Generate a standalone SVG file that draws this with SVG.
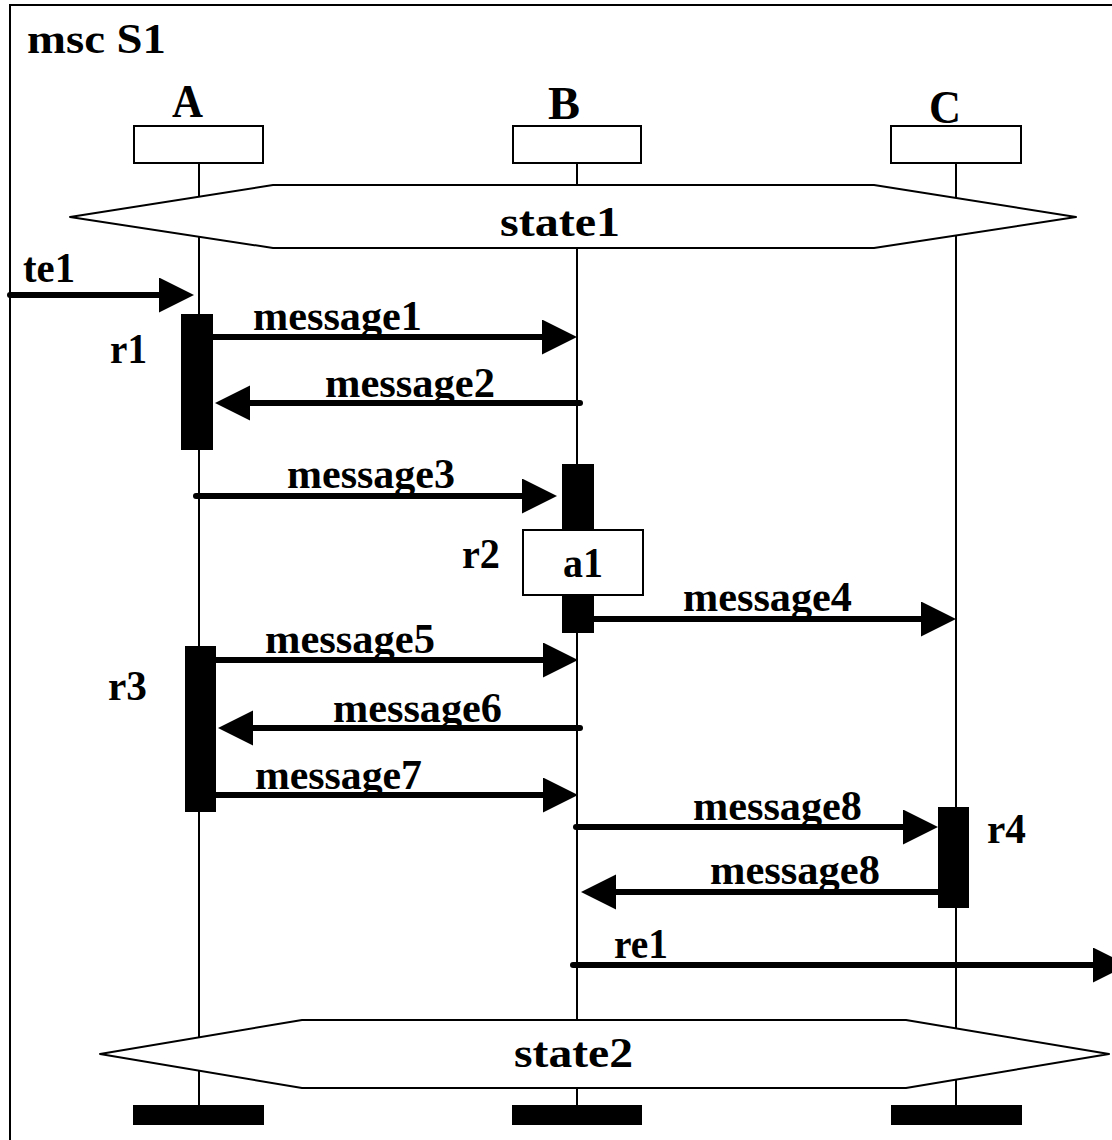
<svg xmlns="http://www.w3.org/2000/svg" width="1112" height="1140" viewBox="0 0 1112 1140">
<style>
text{font-family:"Liberation Serif","Times New Roman",serif;font-weight:bold;fill:#000;}
.t{font-size:42px;}
.hd{font-size:46px;}
.frame{fill:none;stroke:#000;stroke-width:2;}
.box{fill:#fff;stroke:#000;stroke-width:2;}
.life{stroke:#000;stroke-width:2;}
.act{fill:#000;}
.bar{fill:#000;}
.msg{stroke:#000;stroke-width:6;stroke-linecap:round;fill:none;marker-end:url(#ah);}
.cond{fill:#fff;stroke:#000;stroke-width:2;stroke-linejoin:round;}
</style>
<defs>
<marker id="ah" markerUnits="userSpaceOnUse" markerWidth="40" markerHeight="40" refX="25" refY="17.5" orient="auto">
<path d="M0,0 L35,17.5 L0,35 Z" fill="#000"/>
</marker>
</defs>
<rect width="1112" height="1140" fill="#fff"/>
<g id="frame">
<rect class="frame" x="10" y="5" width="1200" height="1200"/>
<text class="t" x="27" y="53" font-size="44" textLength="139" lengthAdjust="spacingAndGlyphs">msc S1</text>
</g>
<g id="instA">
<text class="hd" x="172" y="117" textLength="31" lengthAdjust="spacingAndGlyphs">A</text>
<rect class="box" x="134" y="126" width="129" height="37"/>
<line class="life" x1="199" y1="163" x2="199" y2="1105"/>
<rect class="bar" x="133" y="1105" width="131" height="20"/>
</g>
<g id="instB">
<text class="hd" x="548" y="119" textLength="32" lengthAdjust="spacingAndGlyphs">B</text>
<rect class="box" x="513" y="126" width="128" height="37"/>
<line class="life" x1="577" y1="163" x2="577" y2="1105"/>
<rect class="bar" x="512" y="1105" width="130" height="20"/>
</g>
<g id="instC">
<text class="hd" x="929" y="123" textLength="32" lengthAdjust="spacingAndGlyphs">C</text>
<rect class="box" x="891" y="126" width="130" height="37"/>
<line class="life" x1="956" y1="163" x2="956" y2="1105"/>
<rect class="bar" x="891" y="1105" width="131" height="20"/>
</g>
<g id="state1">
<polygon class="cond" points="70,217 273,185 874,185 1076,217 874,248 273,248"/>
<text class="t" x="500" y="236" textLength="120" lengthAdjust="spacingAndGlyphs">state1</text>
</g>
<g id="state2">
<polygon class="cond" points="100,1054 302,1020 906,1020 1109,1054 906,1088 302,1088"/>
<text class="t" x="514" y="1067" textLength="119" lengthAdjust="spacingAndGlyphs">state2</text>
</g>
<g id="r1">
<rect class="act" x="181" y="314" width="32" height="136"/>
<text class="t" x="110" y="363" textLength="37" lengthAdjust="spacingAndGlyphs">r1</text>
</g>
<g id="r2">
<rect class="act" x="562" y="464" width="32" height="169"/>
<text class="t" x="462" y="568" textLength="38" lengthAdjust="spacingAndGlyphs">r2</text>
</g>
<g id="a1">
<rect class="box" x="523" y="530" width="120" height="65"/>
<text class="t" x="563" y="577" textLength="40" lengthAdjust="spacingAndGlyphs">a1</text>
</g>
<g id="r3">
<rect class="act" x="185" y="646" width="31" height="166"/>
<text class="t" x="108" y="700" textLength="39" lengthAdjust="spacingAndGlyphs">r3</text>
</g>
<g id="r4">
<rect class="act" x="938" y="807" width="31" height="101"/>
<text class="t" x="987" y="843" textLength="39" lengthAdjust="spacingAndGlyphs">r4</text>
</g>
<g id="connectors">
<line class="msg" x1="10" y1="295" x2="184" y2="295"/>
<line class="msg" x1="213" y1="337" x2="567" y2="337"/>
<line class="msg" x1="580" y1="403" x2="225" y2="403"/>
<line class="msg" x1="196" y1="496" x2="547" y2="496"/>
<line class="msg" x1="594" y1="619" x2="946" y2="619"/>
<line class="msg" x1="216" y1="660" x2="568" y2="660"/>
<line class="msg" x1="580" y1="728" x2="228" y2="728"/>
<line class="msg" x1="216" y1="795" x2="568" y2="795"/>
<line class="msg" x1="576" y1="827" x2="928" y2="827"/>
<line class="msg" x1="938" y1="892" x2="591" y2="892"/>
<line class="msg" x1="573" y1="965" x2="1118" y2="965"/>
</g>
<g id="labels">
<text class="t" x="23" y="282" textLength="52" lengthAdjust="spacingAndGlyphs">te1</text>
<text class="t" x="253" y="330" textLength="169" lengthAdjust="spacingAndGlyphs">message1</text>
<text class="t" x="325" y="397" textLength="170" lengthAdjust="spacingAndGlyphs">message2</text>
<text class="t" x="287" y="488" textLength="168" lengthAdjust="spacingAndGlyphs">message3</text>
<text class="t" x="683" y="611" textLength="169" lengthAdjust="spacingAndGlyphs">message4</text>
<text class="t" x="265" y="653" textLength="170" lengthAdjust="spacingAndGlyphs">message5</text>
<text class="t" x="333" y="722" textLength="169" lengthAdjust="spacingAndGlyphs">message6</text>
<text class="t" x="255" y="789" textLength="167" lengthAdjust="spacingAndGlyphs">message7</text>
<text class="t" x="693" y="820" textLength="169" lengthAdjust="spacingAndGlyphs">message8</text>
<text class="t" x="710" y="884" textLength="170" lengthAdjust="spacingAndGlyphs">message8</text>
<text class="t" x="614" y="958" textLength="54" lengthAdjust="spacingAndGlyphs">re1</text>
</g>
</svg>
